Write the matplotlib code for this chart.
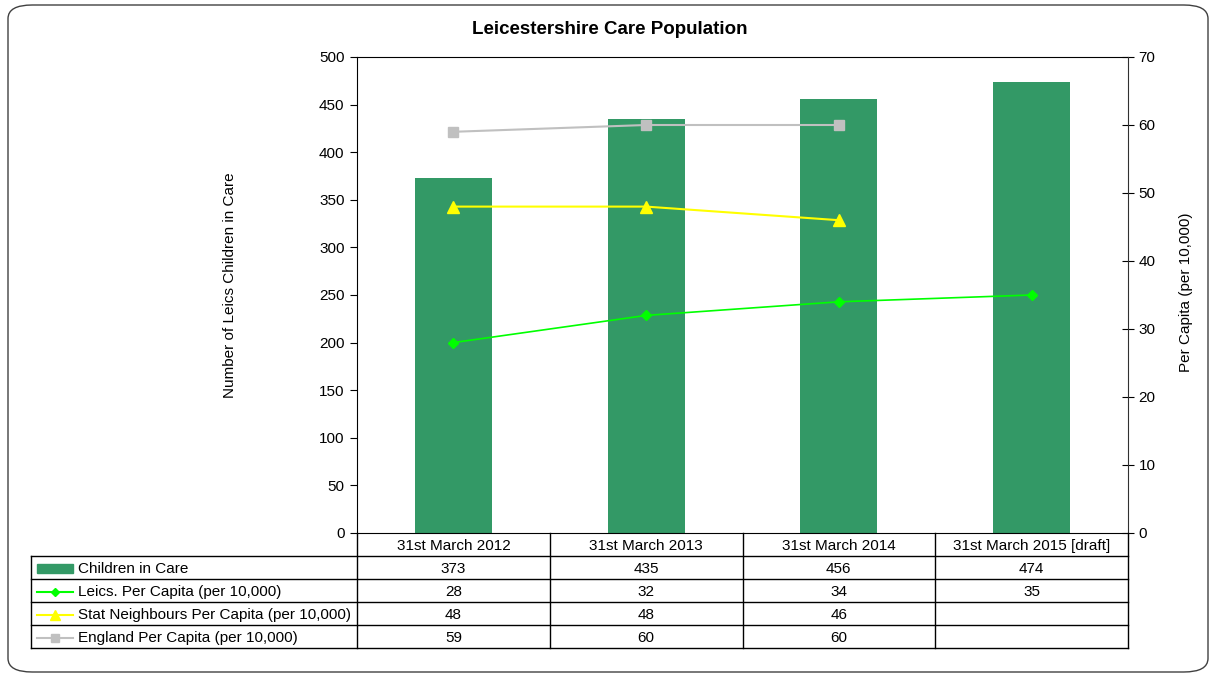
import matplotlib.pyplot as plt
from matplotlib.patches import FancyBboxPatch, Rectangle
from matplotlib.lines import Line2D

plt.rcParams['font.family'] = ['Liberation Sans', 'DejaVu Sans']

dates = ['31st March 2012', '31st March 2013', '31st March 2014', '31st March 2015 [draft]']
children = [373, 435, 456, 474]
leics = [28, 32, 34, 35]
stat_neigh = [48, 48, 46]
england = [59, 60, 60]

series_names = ['Children in Care', 'Leics. Per Capita (per 10,000)',
                'Stat Neighbours Per Capita (per 10,000)', 'England Per Capita (per 10,000)']

bar_col = '#339966'
leics_col = '#00FF00'
stat_col = '#FFFF00'
eng_col = '#C0C0C0'
fs = 11

W, H = 1213, 680
fig = plt.figure(figsize=(W / 100, H / 100), dpi=100)

# rounded outer border
fig.patches.append(FancyBboxPatch((8 / W, 8 / H), 1200 / W, 667 / H,
                                  boxstyle='round,pad=0,rounding_size=0.02',
                                  transform=fig.transFigure, fc='none', ec='#404040', lw=1))

left, right, top, bottom = 357, 1128, 57, 533
ax = fig.add_axes([left / W, 1 - bottom / H, (right - left) / W, (bottom - top) / H])
x = list(range(len(dates)))
ax.bar(x, children, width=0.4, color=bar_col, zorder=2)
ax.set_xlim(-0.5, 3.5)
ax.set_ylim(0, 500)
ax.set_yticks(range(0, 501, 50))
ax.set_xticks([])
ax.tick_params(axis='y', direction='out', length=5, labelsize=fs, pad=4)
for s in ['left', 'top', 'bottom']:
    ax.spines[s].set_color('black')
ax.spines['right'].set_visible(False)
ax.set_ylabel('Number of Leics Children in Care', fontsize=fs, va='center')
ax.yaxis.set_label_coords((230 - left) / (right - left), 0.52)
ax.patch.set_alpha(0)

ax2 = ax.twinx()
ax2.set_ylim(0, 70)
ax2.set_yticks(range(0, 71, 10))
ax2.tick_params(axis='y', direction='inout', length=9, labelsize=fs, pad=3)
ax2.spines['right'].set_color('#303030')
for s in ['left', 'top', 'bottom']:
    ax2.spines[s].set_visible(False)
ax2.plot(x[:len(england)], england, color=eng_col, marker='s', ms=7.5, lw=1.5, zorder=3)
ax2.plot(x[:len(stat_neigh)], stat_neigh, color=stat_col, marker='^', ms=8, lw=1.5, zorder=3)
ax2.plot(x[:len(leics)], leics, color=leics_col, marker='D', ms=5, lw=1.2, zorder=3)
ax2.set_ylabel('Per Capita (per 10,000)', fontsize=fs, va='center')
ax2.yaxis.set_label_coords((1186 - left) / (right - left), 0.505)

fig.text(610 / W, 1 - 29 / H, 'Leicestershire Care Population', ha='center', va='center',
         fontsize=13.5, fontweight='bold')

# data table below the plot
t_left, t_bottom = 31, 648
tax = fig.add_axes([t_left / W, 1 - t_bottom / H, (right - t_left) / W, (t_bottom - bottom) / H])
col_w = (right - left) / 4
lab_w = (left - t_left) / col_w
x0 = -0.5 - lab_w
tax.set_xlim(x0, 3.5)
tax.set_ylim(5, 0)
tax.axis('off')

# grid lines
for r in range(1, 6):
    tax.plot([x0, 3.5], [r, r], color='black', lw=1, clip_on=False)
tax.plot([x0, x0], [1, 5], color='black', lw=1, clip_on=False)
for c in range(5):
    tax.plot([c - 0.5, c - 0.5], [0, 5], color='black', lw=1, clip_on=False)

for i, d in enumerate(dates):
    tax.text(i, 0.55, d, ha='center', va='center', fontsize=fs)

rows = [children, leics, stat_neigh, england]
for r, vals in enumerate(rows):
    for i, v in enumerate(vals):
        tax.text(i, r + 1.55, str(v), ha='center', va='center', fontsize=fs)

# legend keys in the first column
kx0 = x0 + 6 / col_w
kx1 = x0 + 42 / col_w
kmid = (kx0 + kx1) / 2
tax.add_patch(Rectangle((kx0, 1.35), kx1 - kx0, 0.38, color=bar_col))
key_styles = [(leics_col, 'D', 4), (stat_col, '^', 7), (eng_col, 's', 6)]
for r, (c, m, ms) in enumerate(key_styles):
    y = r + 2.55
    tax.add_line(Line2D([kx0, kx1], [y, y], color=c, lw=1.5))
    tax.add_line(Line2D([kmid], [y], color=c, marker=m, ms=ms))
for r, name in enumerate(series_names):
    tax.text(x0 + 47 / col_w, r + 1.55, name, ha='left', va='center', fontsize=fs)

fig.savefig('out.png', dpi=100)
